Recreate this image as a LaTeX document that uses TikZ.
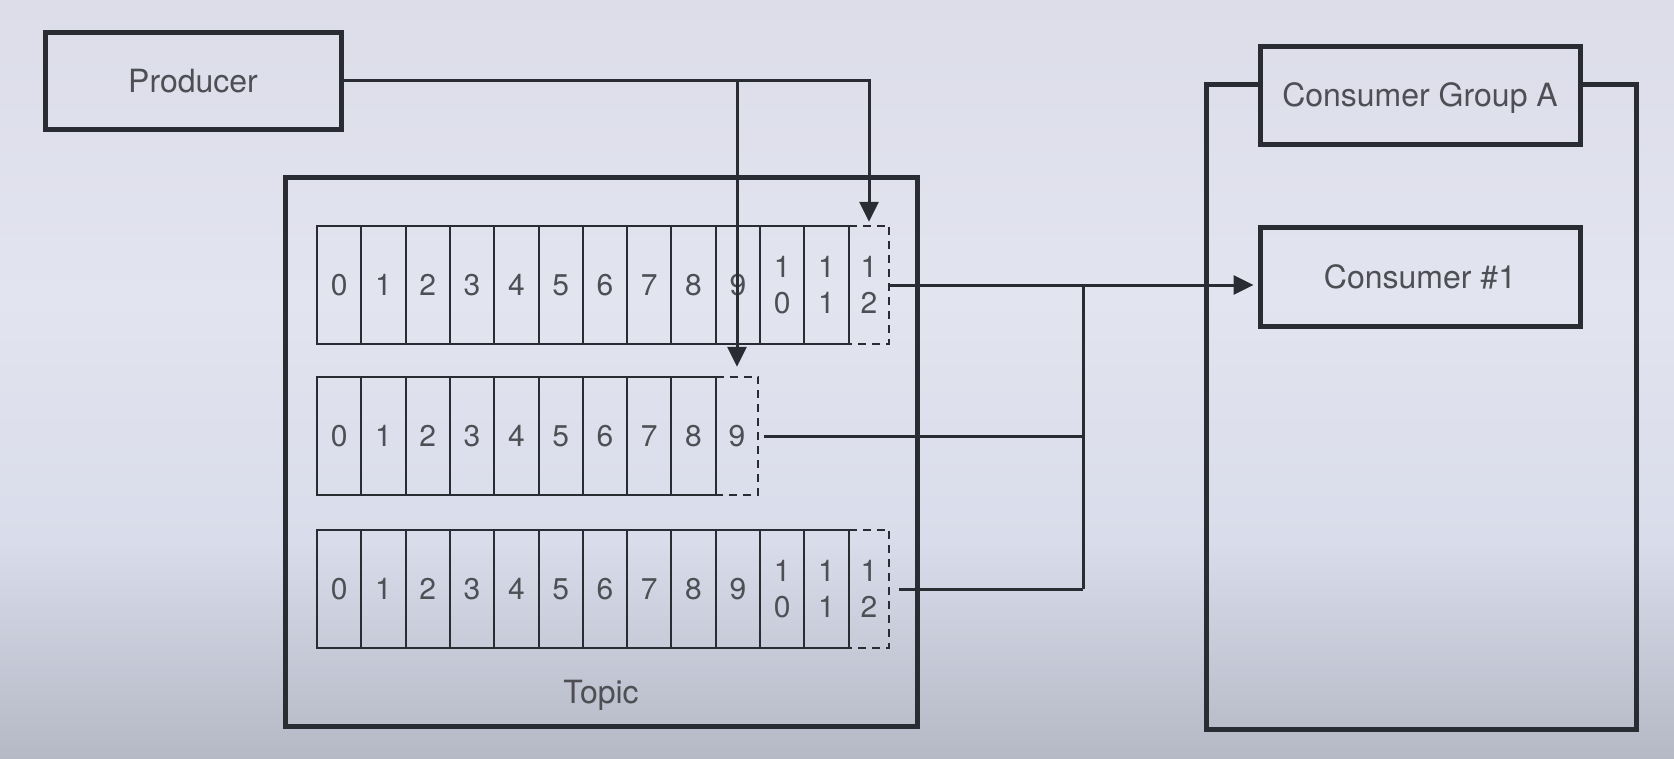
\documentclass[tikz,border=0pt]{standalone}
\usepackage{fontspec}
\setmainfont{TeX Gyre Heros}
\usetikzlibrary{arrows.meta,calc}
\definecolor{ln}{HTML}{2A2C34}
\definecolor{tx}{HTML}{4E4F55}
\definecolor{bgtop}{HTML}{DCDDE9}
\definecolor{bgmid}{HTML}{E2E4EF}
\definecolor{bglow}{HTML}{D9DCEA}
\definecolor{bgbot}{HTML}{B5B8C5}
\begin{document}
\begin{tikzpicture}[x=1pt,y=-1pt,
  box/.style={draw=ln,line width=5pt,inner sep=0pt,text=tx,font=\fontsize{32}{38}\selectfont,
    text height=23pt,text depth=0pt},
  cell/.style={draw=ln,line width=2pt,inner sep=0pt,minimum width=44.3pt,minimum height=118pt,
    text=tx,align=center,font=\fontsize{30}{36}\selectfont},
  dcell/.style={inner sep=0pt,minimum height=118pt,text=tx,align=center,font=\fontsize{30}{36}\selectfont},
  dline/.style={draw=ln,line width=2pt,dash pattern=on 8pt off 6pt},
  conn/.style={draw=ln,line width=3pt},
  tip/.style={-{Triangle[length=20pt,width=19pt]}},
  lbl/.style={text=tx,font=\fontsize{32}{38}\selectfont,inner sep=0pt,text height=23pt,text depth=0pt}]
% background
\shade[top color=bgtop,bottom color=bgmid] (0,0) rectangle (1674,300);
\shade[top color=bgmid,bottom color=bglow] (0,299) rectangle (1674,540);
\shade[top color=bglow,bottom color=bgbot] (0,539) rectangle (1674,758);
\useasboundingbox (0,0) rectangle (1674,758);

% producer
\node[box,minimum width=296pt,minimum height=97pt] (prod) at (193,80.5) {Producer};

% topic
\node[box,minimum width=632pt,minimum height=549pt] (topic) at (601,451.5) {};
\node[lbl] (topiclbl) at (601,692) {Topic};

% row 1
\foreach \i in {0,...,9} \node[cell] (a\i) at ({339.15+44.3*\i},285) {\i};
\node[cell] (a10) at ({339.15+44.3*10},285) {1\\0};
\node[cell] (a11) at ({339.15+44.3*11},285) {1\\1};
\node[dcell,minimum width=40pt] (d1) at (869,285) {1\\2};
\draw[dline] (d1.north west) -- (d1.north east) -- (d1.south east) -- (d1.south west);

% row 2
\foreach \i in {0,...,8} \node[cell] (b\i) at ({339.15+44.3*\i},436) {\i};
\node[dcell,minimum width=42pt] (d2) at (737,436) {9};
\draw[dline] (d2.north west) -- (d2.north east) -- (d2.south east) -- (d2.south west);

% row 3
\foreach \i in {0,...,9} \node[cell] (c\i) at ({339.15+44.3*\i},589) {\i};
\node[cell] (c10) at ({339.15+44.3*10},589) {1\\0};
\node[cell] (c11) at ({339.15+44.3*11},589) {1\\1};
\node[dcell,minimum width=40pt] (d3) at (869,589) {1\\2};
\draw[dline] (d3.north west) -- (d3.north east) -- (d3.south east) -- (d3.south west);

% consumer group
\node[box,minimum width=320pt,minimum height=98pt] (cga) at (1420,95) {Consumer Group A};
\node[box,minimum width=320pt,minimum height=99pt] (cons) at (1420,276.5) {Consumer \#1};
\coordinate (gtl) at (1206,84);
\coordinate (gbr) at (1636,729);
\draw[draw=ln,line width=5pt] (cga.west |- gtl) -- (gtl) -- (gtl |- gbr) -- (gbr) -- (gbr |- gtl) -- (cga.east |- gtl);

% producer connectors
\draw[conn,tip,shorten >=4pt] (prod.east) -| (d1.north);
\draw[conn,tip,shorten >=10pt] (prod.east -| d2.north) -- (d2.north);

% consumer connectors
\coordinate (j) at (1083,287);
\draw[conn,tip,shorten >=4pt] (d1.east) -- (d1.east -| cons.west);
\draw[conn] ([xshift=6pt]d2.east) -- (j |- d2.east);
\draw[conn] ([xshift=10pt]d3.east) -- (j |- d3.east);
\draw[conn] (j |- d1.east) -- (j |- d3.east);
\end{tikzpicture}
\end{document}
